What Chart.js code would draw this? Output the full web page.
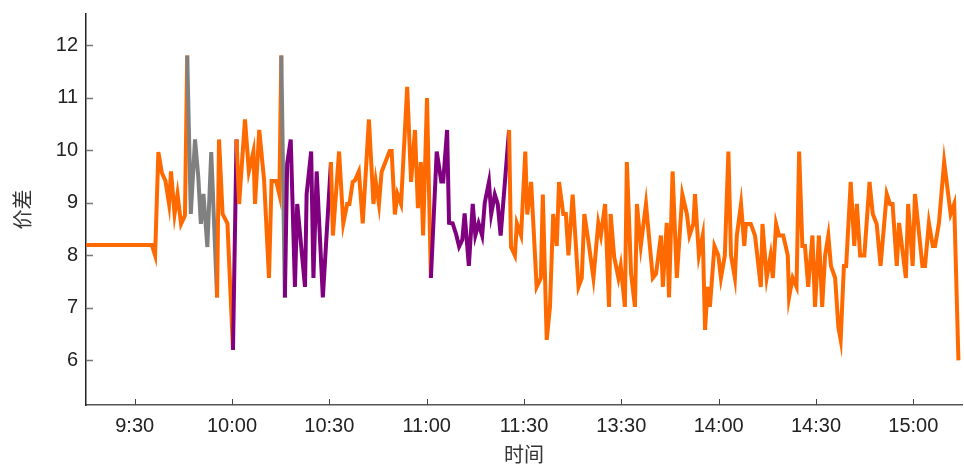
<!DOCTYPE html>
<html>
<head>
<meta charset="utf-8">
<script src="https://cdn.jsdelivr.net/npm/chart.js@4/dist/chart.umd.min.js"></script>
<style>
  html, body { margin: 0; padding: 0; background: #fff; }
  #wrap { width: 964px; height: 464px; }
</style>
</head>
<body>
<div id="wrap"><canvas id="spreadChart" width="964" height="464"></canvas></div>
<script>
// trading minutes since 9:15 (11:30 joins straight onto 13:00)
const minutes = [
  0, 20.3, 21.3, 22.3, 23.4, 24.5, 25.6, 26.2, 27.3, 28.2, 29.3, 30.5,
  31.2, 32.3, 33.6, 34.6, 35.4, 36.2, 37.4, 38.6, 40.4, 41.0, 42.1, 43.6,
  45.3, 46.4, 47.2, 49.0, 50.2, 51.6, 52.1, 53.4, 54.9, 56.4, 57.2, 58.6,
  59.6, 60.2, 61.3, 62.0, 63.1, 64.4, 65.1, 67.5, 68.0, 69.4, 70.1, 71.1,
  73.0, 75.5, 76.1, 78.0, 79.3, 80.5, 81.2, 82.2, 82.9, 84.1, 85.3, 87.2,
  88.6, 89.3, 90.3, 91.1, 93.6, 94.2, 95.2, 96.0, 97.1, 99.0, 100.2, 101.4,
  102.3, 103.2, 103.9, 105.1, 106.3, 108.1, 109.5, 110.1, 111.3, 111.9, 113.0, 114.1,
  115.0, 116.0, 116.7, 118.0, 119.2, 120.0, 121.0, 122.1, 122.9, 124.2, 124.9, 126.0,
  126.9, 127.8, 130.4, 131.0, 132.2, 132.8, 134.1, 135.4, 136.0, 137.2, 138.9, 140.2,
  140.8, 142.0, 143.0, 144.0, 145.1, 145.8, 147.1, 147.9, 148.7, 150.0, 151.8, 152.8,
  153.6, 154.8, 156.4, 157.9, 158.7, 160.0, 161.2, 161.7, 162.8, 164.1, 164.8, 166.1,
  166.7, 168.0, 169.2, 169.8, 171.0, 172.6, 174.7, 175.7, 177.2, 177.8, 179.0, 179.7,
  180.8, 182.1, 183.8, 185.2, 186.0, 187.2, 187.7, 188.9, 190.1, 190.8, 191.6, 192.3,
  193.7, 194.9, 195.7, 196.9, 198.0, 198.8, 200.0, 200.6, 201.9, 202.9, 203.4, 204.9,
  206.2, 208.0, 208.5, 209.8, 211.0, 211.7, 212.7, 213.6, 214.9, 216.3, 216.7, 217.8,
  219.0, 219.8, 220.8, 221.6, 222.6, 223.9, 224.7, 225.9, 226.9, 227.8, 228.8, 229.6,
  230.9, 231.9, 232.6, 233.6, 234.3, 235.7, 236.8, 237.6, 238.6, 239.9, 241.5, 242.5,
  243.7, 244.9, 246.8, 247.8, 248.6, 249.9, 250.6, 252.7, 253.4, 254.8, 255.5, 257.8,
  258.6, 259.8, 261.0, 261.7, 262.9, 264.5, 266.5, 267.6, 268.9
];
const spread = [
  8.2, 8.2, 8.0, 9.97, 9.57, 9.42, 8.98, 9.6, 8.79, 9.17, 8.6, 8.76,
  11.81, 8.79, 10.21, 9.5, 8.6, 9.17, 8.16, 9.97, 7.2, 10.21, 8.79, 8.61,
  6.2, 10.21, 8.98, 10.59, 9.6, 9.98, 8.98, 10.39, 9.43, 7.57, 9.42, 9.42,
  9.16, 11.81, 7.2, 9.75, 10.21, 7.4, 8.98, 7.4, 9.17, 9.98, 7.57, 9.6,
  7.2, 9.78, 8.38, 9.98, 8.61, 8.98, 8.98, 9.4, 9.43, 9.6, 8.61, 10.59,
  8.98, 9.41, 8.98, 9.59, 9.99, 9.99, 8.78, 9.17, 8.98, 11.21, 9.4, 10.39,
  8.9, 9.78, 8.38, 11.0, 7.57, 9.98, 9.41, 9.41, 10.39, 8.62, 8.61, 8.4,
  8.17, 8.3, 8.8, 7.8, 8.98, 8.38, 8.61, 8.38, 9.0, 9.4, 8.79, 9.16,
  8.98, 8.38, 10.39, 8.16, 8.0, 8.61, 8.38, 9.98, 8.78, 9.4, 7.4, 7.57,
  9.16, 6.39, 7.02, 8.79, 8.18, 9.4, 8.79, 8.79, 8.0, 9.16, 7.4, 7.57,
  8.79, 8.29, 7.57, 8.62, 8.38, 8.98, 7.02, 8.79, 7.97, 7.57, 7.8, 7.02,
  9.78, 7.65, 7.02, 8.98, 8.18, 8.98, 7.57, 7.65, 8.38, 7.4, 8.62, 7.2,
  9.6, 7.57, 9.16, 8.79, 8.38, 8.6, 9.17, 8.0, 8.38, 6.58, 7.4, 7.02,
  8.18, 8.0, 7.57, 8.0, 9.98, 8.0, 7.57, 8.38, 8.98, 8.18, 8.6, 8.6,
  8.38, 7.4, 8.6, 7.57, 8.0, 7.57, 8.6, 8.38, 8.38, 8.0, 7.2, 7.57,
  7.4, 9.98, 8.18, 8.18, 7.4, 8.38, 7.02, 8.38, 7.02, 8.0, 8.38, 7.8,
  7.57, 6.63, 6.39, 7.8, 7.8, 9.4, 8.18, 8.98, 8.0, 8.0, 9.4, 8.79,
  8.6, 7.8, 9.17, 8.98, 8.98, 7.8, 8.62, 7.57, 8.98, 7.8, 9.17, 7.8,
  7.8, 8.62, 8.18, 8.18, 8.62, 9.78, 8.79, 8.98, 6.0
];
// stretches (start minute, end minute) drawn in another colour
const grayRanges = [[31.2, 40.4], [60.2, 61.3]];
const purpleRanges = [[45.3, 46.4], [61.3, 75.5], [106.3, 130.4]];

const xTickMinutes = [15, 45, 75, 105, 135, 165, 195, 225, 255];
const xTickLabels = ['9:30', '10:00', '10:30', '11:00', '11:30', '13:30', '14:00', '14:30', '15:00'];
const yTicks = [6, 7, 8, 9, 10, 11, 12];

const ORANGE = '#ff6a00';
const GRAY = '#808080';
const PURPLE = '#800080';

function inRanges(x, ranges) {
    return ranges.some(r => x >= r[0] - 0.01 && x < r[1] - 0.01);
}
function segColor(ctx) {
    const x = ctx.p0.parsed.x;
    if (inRanges(x, grayRanges)) return GRAY;
    if (inRanges(x, purpleRanges)) return PURPLE;
    return ORANGE;
}

// small tick marks pointing into the plot
const innerTicks = {
    id: 'innerTicks',
    afterDraw(chart) {
        const ctx = chart.ctx;
        const xs = chart.scales.x, ys = chart.scales.y;
        const area = chart.chartArea;
        ctx.save();
        ctx.lineWidth = 1.5;
        ctx.strokeStyle = '#777';
        ys.ticks.forEach(t => {
            const y = Math.round(ys.getPixelForValue(t.value)) + 0.5;
            ctx.beginPath();
            ctx.moveTo(area.left, y);
            ctx.lineTo(area.left + 7, y);
            ctx.stroke();
        });
        ctx.strokeStyle = '#444';
        ctx.lineWidth = 1;
        xs.ticks.forEach(t => {
            const x = Math.round(xs.getPixelForValue(t.value)) + 0.5;
            ctx.beginPath();
            ctx.moveTo(x, area.bottom);
            ctx.lineTo(x, area.bottom - 6);
            ctx.stroke();
        });
        ctx.restore();
    }
};

const tickFont = { family: '"Liberation Sans", Arial, sans-serif', size: 20 };
const titleFont = { family: '"Noto Sans CJK SC", sans-serif', size: 20, lineHeight: 1 };

new Chart(document.getElementById('spreadChart'), {
    type: 'line',
    data: {
        datasets: [{
            data: minutes.map((m, i) => ({ x: m, y: spread[i] })),
            borderColor: ORANGE,
            borderWidth: 4,
            pointRadius: 0,
            tension: 0,
            segment: { borderColor: segColor }
        }]
    },
    options: {
        responsive: false,
        animation: false,
        layout: { padding: { left: 0, right: 2, top: 14, bottom: 0 } },
        plugins: { legend: { display: false }, tooltip: { enabled: false } },
        scales: {
            x: {
                type: 'linear',
                min: 0,
                max: 270,
                afterBuildTicks: s => { s.ticks = xTickMinutes.map(v => ({ value: v })); },
                afterFit: s => { s.height = 59; s.paddingLeft = 0; s.paddingRight = 0; },
                grid: { display: false, drawTicks: false },
                border: { display: true, color: '#555', width: 1.5 },
                ticks: {
                    padding: 9,
                    color: '#222',
                    font: tickFont,
                    maxRotation: 0,
                    autoSkip: false,
                    callback: v => xTickLabels[xTickMinutes.indexOf(v)]
                },
                title: { display: true, text: '时间', color: '#333', font: titleFont, padding: { top: 0, bottom: 0 } }
            },
            y: {
                min: 5.15,
                max: 12.6,
                afterBuildTicks: s => { s.ticks = yTicks.map(v => ({ value: v })); },
                afterFit: s => { s.width = 86; s.paddingTop = 0; s.paddingBottom = 0; },
                grid: { display: false, drawTicks: false },
                border: { display: true, color: '#222', width: 1.5 },
                ticks: { padding: 8, color: '#222', font: tickFont },
                title: { display: true, text: '价差', color: '#333', font: titleFont, padding: { top: 12, bottom: 0 } }
            }
        }
    },
    plugins: [innerTicks]
});
</script>
</body>
</html>
